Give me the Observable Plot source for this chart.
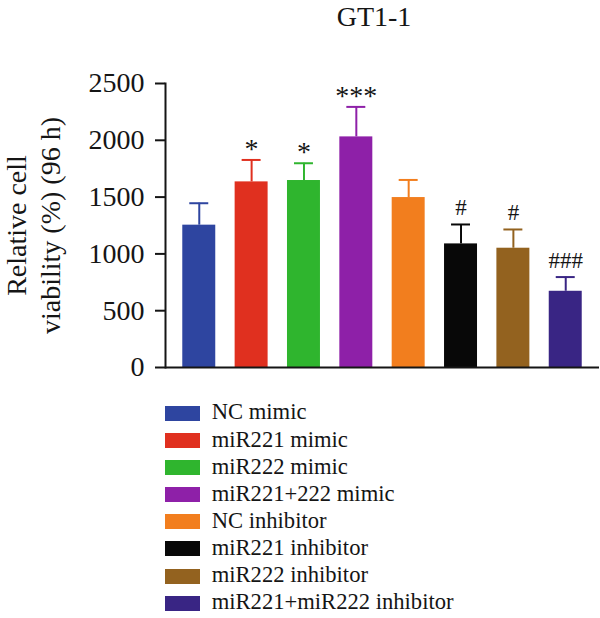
<!DOCTYPE html>
<html><head><meta charset="utf-8">
<script src="https://cdn.jsdelivr.net/npm/d3@7"></script>
<script src="https://cdn.jsdelivr.net/npm/@observablehq/plot@0.6"></script>
<style>
body{margin:0;background:#fff;font-family:"Liberation Serif","Times New Roman",serif;}
#wrap{position:relative;width:600px;height:618px;overflow:hidden}
#title{position:absolute;top:0;left:374px;transform:translateX(-50%);font-size:28px;line-height:28px;padding-top:2.6px;white-space:nowrap;color:#151515}
#chart{position:absolute;top:40px;left:0}
#legend{position:absolute;top:406px;left:165px}
.row{position:relative;height:27.1px;}
.sw{position:absolute;left:0;top:0;width:35px;height:15px}
.lt{position:absolute;left:46.7px;top:-4.6px;font-family:"Liberation Serif",serif;font-size:22.6px;line-height:22.6px;white-space:nowrap;color:#151515}
</style></head><body>
<div id="wrap"><div id="title">GT1-1</div><div id="chart"></div><div id="legend"></div></div>
<script>
const groups = ["NC mimic","miR221 mimic","miR222 mimic","miR221+222 mimic","NC inhibitor","miR221 inhibitor","miR222 inhibitor","miR221+miR222 inhibitor"];
const values = [1253, 1634, 1646, 2030, 1496, 1088, 1050, 671];
const errors = [193, 193, 152, 264, 155, 171, 165, 125];
const signif = ["", "*", "*", "***", "", "#", "#", "###"];
const colors = ["#2E45A0","#E0301F","#2FB52E","#8E20A8","#F27E1E","#080808","#93621F","#392584"];
const yTicks = [0, 500, 1000, 1500, 2000, 2500];
const yLabel = "Relative cell\nviability (%) (96 h)";

const data = groups.map((g, i) => ({group: g, value: values[i], top: values[i] + errors[i], sig: signif[i]}));

const plot = Plot.plot({
  width: 600, height: 360,
  marginTop: 43, marginBottom: 33, marginLeft: 165, marginRight: 1,
  style: {fontFamily: "'Liberation Serif', 'Times New Roman', serif", fontSize: "28px", color: "#151515", background: "transparent", overflow: "visible"},
  x: {domain: groups, paddingInner: 0.37, paddingOuter: 0.33, round: false, axis: null},
  y: {domain: [0, 2500], axis: null},
  color: {domain: groups, range: colors},
  marks: [
    Plot.barY(data, {x: "group", y: "value", fill: "group"}),
    Plot.ruleX(data, {x: "group", y1: "value", y2: "top", stroke: "group", strokeWidth: 2}),
    Plot.tickY(data, {x: "group", y: "top", stroke: "group", strokeWidth: 2, insetLeft: 7, insetRight: 7}),
    Plot.text(data.filter(d => d.sig.startsWith("*")), {x: "group", y: "top", text: "sig", lineAnchor: "bottom", dy: -2, fontSize: 28, fill: "#151515"}),
    Plot.text(data.filter(d => d.sig.startsWith("#")), {x: "group", y: "top", text: "sig", lineAnchor: "bottom", dy: -9, fontSize: 23, fill: "#151515"}),
    Plot.axisY(yTicks, {tickSize: 10, tickPadding: 11, strokeWidth: 2, fontSize: 28, label: null, tickFormat: d => String(d), stroke: "#151515", fill: "#151515"}),
    Plot.frame({anchor: "left", strokeWidth: 2, stroke: "#151515"}),
    Plot.ruleY([0], {strokeWidth: 2, stroke: "#151515"}),
    Plot.text([yLabel], {text: d => d, frameAnchor: "left", textAnchor: "middle", rotate: -90, lineAnchor: "bottom", lineHeight: 1.21, dx: -106, fontSize: 28, fill: "#151515"})
  ]
});
document.getElementById("chart").appendChild(plot);

const legend = document.getElementById("legend");
groups.forEach((g, i) => {
  const row = document.createElement("div");
  row.className = "row";
  const sw = document.createElement("span");
  sw.className = "sw";
  sw.style.background = colors[i];
  const t = document.createElement("span");
  t.className = "lt";
  t.textContent = g;
  row.appendChild(sw);
  row.appendChild(t);
  legend.appendChild(row);
});
</script>
</body></html>
